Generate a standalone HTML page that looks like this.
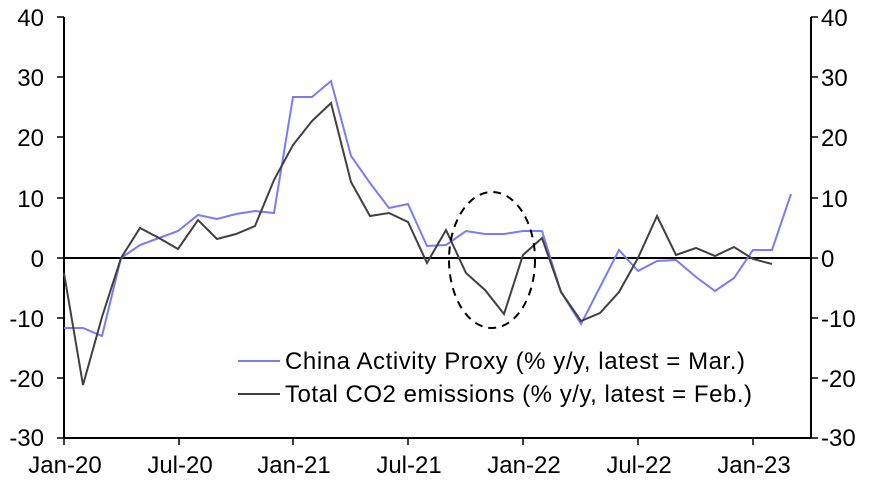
<!DOCTYPE html>
<html><head><style>body{margin:0;background:#fff}svg{display:block}text{font-family:"Liberation Sans",Arial,sans-serif;font-size:24px;fill:#000}.lg{font-size:24px}</style></head><body>
<svg width="874" height="481" viewBox="0 0 874 481">
<g stroke="#000" stroke-width="2">
<line x1="64" y1="17" x2="64" y2="438"/>
<line x1="811" y1="17" x2="811" y2="438"/>
<line x1="64" y1="258" x2="811" y2="258"/>
<line x1="64" y1="438" x2="811" y2="438"/>
</g>
<g stroke="#000" stroke-width="1.5">
<path d="M57 17H64M57 77H64M57 137H64M57 198H64M57 258H64M57 318H64M57 378H64M57 438H64"/>
<path d="M811 17H818M811 77H818M811 137H818M811 198H818M811 258H818M811 318H818M811 378H818M811 438H818"/>
<path d="M64 438V445M179 438V445M293 438V445M408 438V445M523 438V445M638 438V445M753 438V445"/>
</g>
<g text-anchor="end">
<text x="44" y="26">40</text><text x="44" y="86">30</text><text x="44" y="146">20</text><text x="44" y="207">10</text><text x="44" y="267">0</text><text x="44" y="327">-10</text><text x="44" y="387">-20</text><text x="44" y="446">-30</text>
</g>
<g>
<text x="821" y="26">40</text><text x="821" y="86">30</text><text x="821" y="146">20</text><text x="821" y="207">10</text><text x="821" y="267">0</text><text x="821" y="327">-10</text><text x="821" y="387">-20</text><text x="821" y="446">-30</text>
</g>
<g text-anchor="middle">
<text x="65" y="473">Jan-20</text><text x="180" y="473">Jul-20</text><text x="294" y="473">Jan-21</text><text x="409" y="473">Jul-21</text><text x="524" y="473">Jan-22</text><text x="639" y="473">Jul-22</text><text x="754" y="473">Jan-23</text>
</g>
<polyline fill="none" stroke="#7b7bf5" stroke-width="2" points="64,328 83,328 102,336 121,258 140,245 159,238 178,231 198,215 217,219 236,214 255,211 274,213 293,97 312,97 331,81 351,156 370,183 389,208 408,204 427,246 446,245 466,231 485,234 504,234 523,231 542,231 561,292 581,324 600,287 619,250 638,271 657,261 676,260 696,277 715,291 734,278 753,250 772,250 791,194"/>
<polyline fill="none" stroke="#404040" stroke-width="2" points="64,273 83,385 102,317 121,258 140,228 159,238 178,249 198,220 217,239 236,234 255,226 274,180 293,145 312,121 331,103 351,182 370,216 389,213 408,222 427,263 446,230 466,273 485,290 504,314 523,255 542,238 561,292 581,321 600,313 619,292 638,258 657,216 676,255 696,248 715,256 734,247 753,259 772,264"/>
<ellipse cx="492" cy="260" rx="43" ry="68" fill="none" stroke="#000" stroke-width="2" stroke-dasharray="8,6"/>
<line x1="238" y1="361" x2="280" y2="361" stroke="#7b7bf5" stroke-width="2"/>
<line x1="238" y1="394" x2="280" y2="394" stroke="#404040" stroke-width="2"/>
<text class="lg" x="285" y="369" textLength="460" lengthAdjust="spacing">China Activity Proxy (% y/y, latest = Mar.)</text>
<text class="lg" x="285" y="402" textLength="467" lengthAdjust="spacing">Total CO2 emissions (% y/y, latest = Feb.)</text>
</svg>
</body></html>
